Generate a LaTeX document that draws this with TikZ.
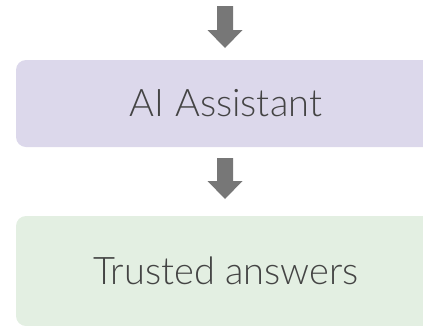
\documentclass[tikz,border=0pt]{standalone}
\usepackage{fontspec}
\setmainfont{Lato Light}
\definecolor{boxpurple}{HTML}{DCD8EB}
\definecolor{boxgreen}{HTML}{E3EFE2}
\definecolor{arrowgray}{HTML}{777777}
\definecolor{textgray}{HTML}{444444}
\tikzset{
  fatarrow/.style={fill=arrowgray, draw=none},
  stagebox/.style={rounded corners=10pt, draw=none, minimum width=420pt, text=textgray, font=\fontsize{38}{44}\selectfont, inner sep=0pt},
}
\begin{document}
\begin{tikzpicture}[x=1pt,y=-1pt]
\useasboundingbox (0,0) rectangle (423,325);
\clip (0,0) rectangle (423,325);
\node[stagebox, fill=boxpurple, minimum height=87pt] (assistant) at (226,103.5) {AI Assistant};
\node[stagebox, fill=boxgreen, minimum height=110pt] (answers) at (226,271) {Trusted answers};
\coordinate (a1s) at (225,6);
\coordinate (a1t) at (225,48);
\coordinate (a2s) at (225,158);
\coordinate (a2t) at (225,199);
\fill[fatarrow] (a1s) ++(-8,0) -- ++(16,0) -- ++(0,24) -- ++(9.5,0) -- (a1t) -- ++(-17.5,-18) -- ++(9.5,0) -- cycle;
\fill[fatarrow] (a2s) ++(-8,0) -- ++(16,0) -- ++(0,23) -- ++(9.5,0) -- (a2t) -- ++(-17.5,-18) -- ++(9.5,0) -- cycle;
\end{tikzpicture}
\end{document}
